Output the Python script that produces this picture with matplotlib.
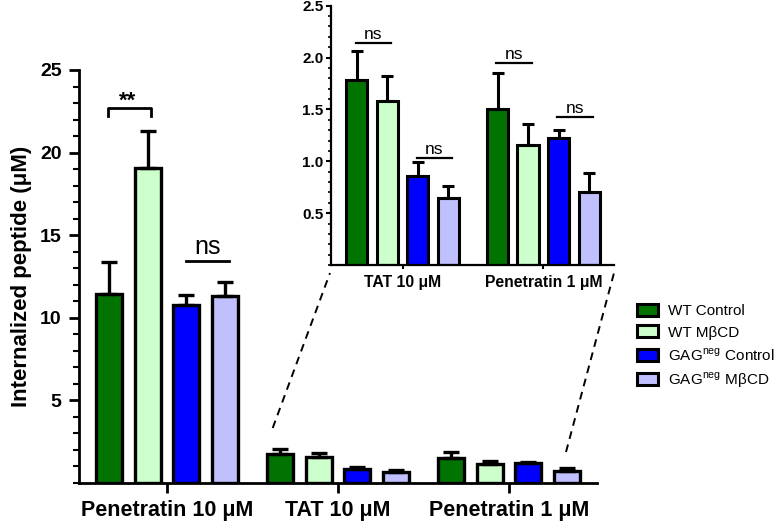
import numpy as np
import matplotlib
matplotlib.use('Agg')
import matplotlib.pyplot as plt
from matplotlib.ticker import MultipleLocator
from matplotlib.patches import Patch
from matplotlib.lines import Line2D

plt.rcParams['font.family'] = ['Liberation Sans', 'DejaVu Sans']
plt.rcParams['mathtext.fontset'] = 'custom'
plt.rcParams['mathtext.rm'] = 'Liberation Sans'

################# Data ################
categories = ['Penetratin 10 \u03bcM', 'TAT 10 \u03bcM', 'Penetratin 1 \u03bcM']
series = ['WT Control', 'WT M\u03b2CD', 'GAG$^{\\mathrm{neg}}$ Control', 'GAG$^{\\mathrm{neg}}$ M\u03b2CD']
colors = ['#007300', '#ccffcc', '#0000ff', '#c0c0ff']

pen10_mean = [11.45, 19.05, 10.8, 11.3]
pen10_err = [1.9, 2.25, 0.6, 0.85]
tat10_mean = [1.78, 1.58, 0.86, 0.65]
tat10_err = [0.28, 0.24, 0.13, 0.11]
pen1_mean = [1.50, 1.16, 1.22, 0.70]
pen1_err = [0.35, 0.20, 0.08, 0.19]

means = np.array([pen10_mean, tat10_mean, pen1_mean])
errs = np.array([pen10_err, tat10_err, pen1_err])
#######################################

W, H = 774, 526
fig = plt.figure(figsize=(W/100, H/100), dpi=100)

def draw_bars(ax, cats, m, e, step, width, lw, capsize, elw):
    x = np.arange(len(cats))
    for j in range(4):
        xs = x + (j - 1.5)*step
        ax.bar(xs, m[:, j], width, color=colors[j], edgecolor='k', linewidth=lw, zorder=2)
        ax.errorbar(xs, m[:, j], yerr=[np.zeros(len(cats)), e[:, j]], fmt='none',
                    ecolor='k', elinewidth=elw, capsize=capsize, capthick=elw, zorder=3)
    ax.set_xticks(x)
    ax.set_xticklabels(cats, fontweight='bold')
    for s in ['top', 'right']:
        ax.spines[s].set_visible(False)

################# Main plot ################
ax = fig.add_axes([79/W, 43/H, 518/W, 413/H])
draw_bars(ax, categories, means, errs, 0.225, 0.152, 2.4, 6, 2.4)
ax.set_xlim(-0.515, 2.515)
ax.set_ylim(0, 25)
ax.set_yticks([5, 10, 15, 20, 25])
ax.yaxis.set_minor_locator(MultipleLocator(1))
for s in ['left', 'bottom']:
    ax.spines[s].set_linewidth(2)
ax.tick_params(axis='y', which='major', length=7.5, width=2, labelsize=14, pad=5)
ax.tick_params(axis='y', which='minor', length=4, width=1.5)
ax.tick_params(axis='x', length=7, width=2, labelsize=15.5, pad=5)
for t in ax.get_yticklabels():
    t.set_fontweight('bold')
ax.set_ylabel('Internalized peptide (\u03bcM)', fontsize=16, fontweight='bold', labelpad=6)

# significance
step = 0.225
ax.plot([-1.5*step - 0.01, -1.5*step - 0.01, -0.5*step + 0.02, -0.5*step + 0.02],
        [22.2, 22.7, 22.7, 22.2], color='k', lw=2)
ax.text(-step - 0.005, 22.45, '**', ha='center', va='bottom', fontsize=16, fontweight='bold')
ax.plot([0.5*step, 1.5*step + 0.025], [13.45, 13.45], color='k', lw=2)
ax.text(step + 0.01, 13.55, 'ns', ha='center', va='bottom', fontsize=18)

################# Inset ################
ins = fig.add_axes([331/W, 261/H, 283/W, 259.3/H])
draw_bars(ins, categories[1:], means[1:], errs[1:], 0.217, 0.15, 2.2, 4, 2.2)
ins.set_xlim(-0.51, 1.503)
ins.set_ylim(0, 2.5)
ins.set_yticks([0.5, 1.0, 1.5, 2.0, 2.5])
ins.yaxis.set_minor_locator(MultipleLocator(0.1))
for s in ['left', 'bottom']:
    ins.spines[s].set_linewidth(1.6)
ins.tick_params(axis='y', which='major', length=3.5, width=1.5, labelsize=11, pad=2)
ins.tick_params(axis='y', which='minor', length=2.2, width=1.2)
ins.tick_params(axis='x', length=3, width=1.5, labelsize=11.3, pad=4)
for t in ins.get_yticklabels():
    t.set_fontweight('bold')

s2 = 0.217
ns_inset = [(0, 0, 1, 2.14), (0, 2, 3, 1.035), (1, 0, 1, 1.945), (1, 2, 3, 1.43)]
for g, a, b, yv in ns_inset:
    x1 = g + (a - 1.5)*s2 - 0.01
    x2 = g + (b - 1.5)*s2 + 0.025
    ins.plot([x1, x2], [yv, yv], color='k', lw=1.6)
    ins.text((x1 + x2)/2, yv + 0.01, 'ns', ha='center', va='bottom', fontsize=12.5)

################# Zoom lines ################
for (x0, y0), (x1, y1) in [((272.7, 428), (330, 273)), ((566, 452), (614, 273))]:
    fig.add_artist(Line2D([x0/W, x1/W], [1 - y0/H, 1 - y1/H], transform=fig.transFigure,
                          color='k', lw=1.4, ls=(0, (4, 3))))

################# Legend ################
handles = [Patch(facecolor=c, edgecolor='k', linewidth=2.2) for c in colors]
fig.legend(handles, series, loc='upper left', bbox_to_anchor=(637/W, 1 - 304/H),
           frameon=False, fontsize=11, borderpad=0, borderaxespad=0,
           handlelength=1.4, handleheight=0.85, handletextpad=0.65, labelspacing=0.45)

fig.savefig('out.png', dpi=100)
